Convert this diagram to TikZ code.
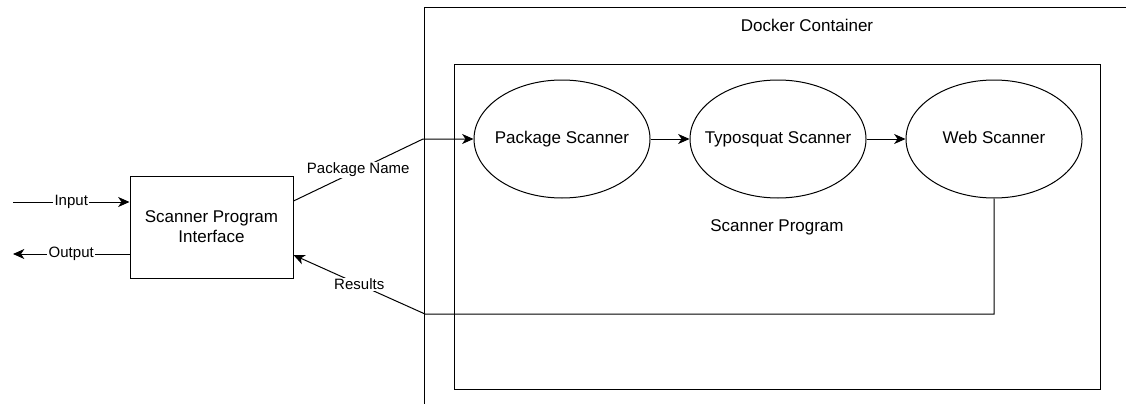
\documentclass[tikz,border=0pt]{standalone}
\usepackage{fontspec}
\setmainfont{Liberation Sans}
\usetikzlibrary{arrows.meta, positioning, shapes.geometric}

\newcommand{\scantext}[1]{\makebox[0pt]{\strut#1}}

\begin{document}
\begin{tikzpicture}[
x=0.75pt, y=-0.75pt,
>={Stealth[length=8.5pt,width=7.5pt,inset=2.5pt]},
line width=0.75pt,
every node/.style={font=\fontsize{12.75}{15}\selectfont},
box/.style={draw, rectangle, inner sep=0pt},
scan/.style={draw, ellipse, minimum width=132pt, minimum height=88.5pt, inner sep=0pt},
lbl/.style={fill=white, inner sep=1pt, font=\fontsize{11.25}{13}\selectfont},
]
\useasboundingbox (0,0) rectangle (1126,403);
\clip (0,0) rectangle (1126,403);

\node[box, minimum width=122.25pt, minimum height=76.5pt, align=center] (iface) at (211.5,227) {Scanner Program\\Interface};
\node[box, minimum width=574.5pt, minimum height=315pt, anchor=north west] (docker) at (424,7) {};
\node (dlabel) at (807,25) {Docker Container};
\node[box, minimum width=484.5pt, minimum height=243pt] (prog) at (777,227) {Scanner Program};
\node[scan] (pkg) at (562,139) {\scantext{Package Scanner}};
\node[scan, right=29.25pt of pkg] (typo) {\scantext{Typosquat Scanner}};
\node[scan, right=29.25pt of typo] (web) {\scantext{Web Scanner}};

\coordinate (in) at (13,202);
\coordinate (out) at (13,254);
\coordinate (bend) at (423,139);
\coordinate (back) at (425,314);

% Arrows
\draw[->] (in) -- node[lbl]{Input} (in -| iface.west);
\draw[->] (out -| iface.west) -- node[lbl]{Output} (out);
\draw[->] ([yshift=19.5pt]iface.east) -- node[lbl]{Package Name} (bend) -- (pkg);
\draw[->] (pkg) -- (typo);
\draw[->] (typo) -- (web);
\draw[->] (web.south) |- (back) -- node[lbl]{Results} ([yshift=-21pt]iface.east);

\end{tikzpicture}
\end{document}
